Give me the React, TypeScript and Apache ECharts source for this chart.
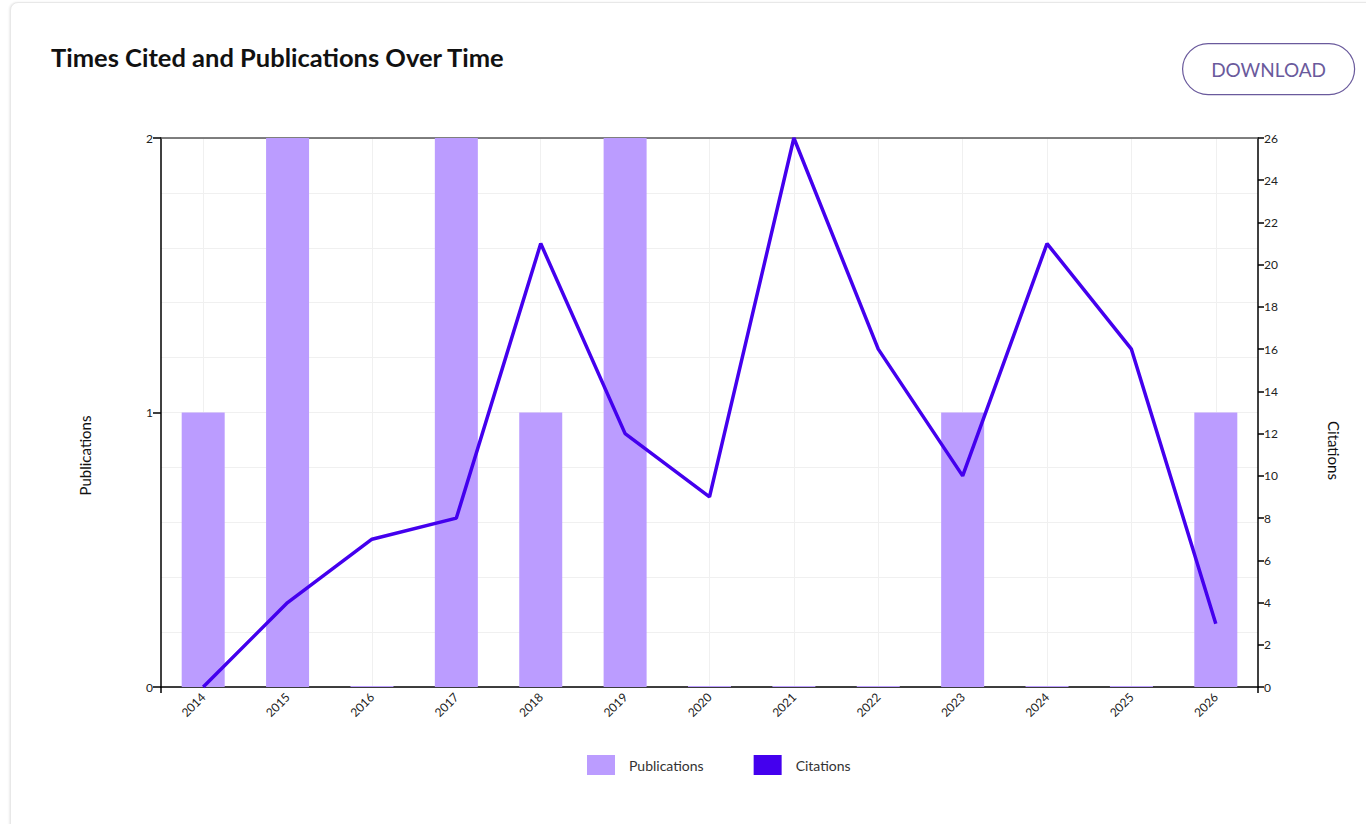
import React, { useEffect, useRef } from "react";
import * as echarts from "echarts";

const years = ["2014", "2015", "2016", "2017", "2018", "2019", "2020", "2021", "2022", "2023", "2024", "2025", "2026"];
const publications = [1, 2, 0, 2, 1, 2, 0, 0, 0, 1, 0, 0, 1];
const citations = [0, 4, 7, 8, 21, 12, 9, 26, 16, 10, 21, 16, 3];
const titleText = "Times Cited and Publications Over Time";
const buttonText = "DOWNLOAD";

const FONT = "Lato, 'Noto Sans', sans-serif";
const BAR = "#bb9cff";
const LINE = "#4400ee";
const BTN = "#6a5a9c";

export default function App() {
  const ref = useRef<HTMLDivElement>(null);
  useEffect(() => {
    if (!ref.current) return;
    const chart = echarts.init(ref.current, undefined, { renderer: "svg" });
    chart.setOption({
      animation: false,
      textStyle: { fontFamily: FONT },
      title: {
        text: titleText,
        left: 46,
        top: 39,
        textStyle: { fontFamily: FONT, fontSize: 25.5, fontWeight: "bold", color: "#111" },
      },
      graphic: [
        {
          type: "group",
          left: 1182,
          top: 43,
          children: [
            {
              type: "rect",
              shape: { x: 0, y: 0, width: 172, height: 51, r: 25.5 },
              style: { fill: "#fff", stroke: BTN, lineWidth: 1.2 },
            },
            {
              type: "text",
              x: 86,
              y: 26,
              style: {
                text: buttonText,
                fill: BTN,
                font: `19px ${FONT}`,
                textAlign: "center",
                textVerticalAlign: "middle",
              },
            },
          ],
        },
      ],
      legend: {
        left: 582,
        top: 750,
        icon: "rect",
        itemWidth: 28,
        itemHeight: 20,
        itemGap: 50,
        textStyle: { fontFamily: FONT, fontSize: 14, color: "#333", padding: [0, 0, 0, 9] },
        data: ["Publications", "Citations"],
      },
      grid: { left: 161, right: 108, top: 138, bottom: 137, containLabel: false },
      xAxis: [
        {
          type: "category",
          data: years,
          position: "bottom",
          axisLine: { onZero: false, lineStyle: { color: "#000", width: 1.5 } },
          axisTick: { alignWithLabel: true, length: 6, lineStyle: { color: "#000", width: 1.5 } },
          axisLabel: { rotate: 45, fontSize: 12, color: "#222", margin: 8, fontFamily: FONT },
          splitLine: { show: true, alignWithLabel: true, lineStyle: { color: "#f0f0f0", width: 1 } },
        },
        {
          type: "value",
          position: "bottom",
          min: 0,
          max: 1,
          interval: 1,
          axisLine: { show: false, onZero: false },
          axisTick: { show: true, length: 6, lineStyle: { color: "#000", width: 1.5 } },
          axisLabel: { show: false },
          splitLine: { show: false },
        },
        {
          type: "value",
          position: "top",
          min: 0,
          max: 1,
          interval: 1,
          axisLine: { show: true, onZero: false, lineStyle: { color: "#555", width: 1.5 } },
          axisTick: { show: false },
          axisLabel: { show: false },
          splitLine: { show: false },
        },
      ],
      yAxis: [
        {
          type: "value",
          position: "left",
          min: 0,
          max: 2,
          interval: 1,
          name: "Publications",
          nameLocation: "middle",
          nameRotate: 90,
          nameGap: 69,
          nameTextStyle: { fontFamily: FONT, fontSize: 15, color: "#111", padding: [0, 86, 0, 0] },
          axisLine: { show: true, onZero: false, lineStyle: { color: "#000", width: 1.5 } },
          axisTick: { show: true, length: 8, lineStyle: { color: "#000", width: 1.5 } },
          axisLabel: { fontSize: 12, color: "#222", margin: 8, fontFamily: FONT },
          splitLine: { show: true, lineStyle: { color: "#f0f0f0" } },
          minorTick: { show: false, splitNumber: 5 },
          minorSplitLine: { show: true, lineStyle: { color: "#f0f0f0" } },
        },
        {
          type: "value",
          position: "right",
          min: 0,
          max: 26,
          interval: 2,
          name: "Citations",
          nameLocation: "middle",
          nameRotate: -90,
          nameGap: 68,
          nameTextStyle: { fontFamily: FONT, fontSize: 15, color: "#111", padding: [0, 0, 0, 76] },
          axisLine: { show: true, onZero: false, lineStyle: { color: "#000", width: 1.5 } },
          axisTick: { show: true, length: 6, lineStyle: { color: "#000", width: 1.5 } },
          axisLabel: { fontSize: 12, color: "#222", margin: 6, fontFamily: FONT },
          splitLine: { show: false },
        },
      ],
      series: [
        {
          name: "Publications",
          type: "bar",
          xAxisIndex: 0,
          yAxisIndex: 0,
          data: publications,
          barWidth: 43,
          barMinHeight: 1,
          itemStyle: { color: BAR },
        },
        {
          name: "Citations",
          type: "line",
          xAxisIndex: 0,
          yAxisIndex: 1,
          data: citations,
          showSymbol: false,
          symbol: "none",
          lineStyle: { color: LINE, width: 3.5 },
          itemStyle: { color: LINE },
        },
      ],
    });
    return () => chart.dispose();
  }, []);

  return (
    <div style={{ position: "fixed", left: 0, top: 0, width: 1366, height: 824, background: "#fff", overflow: "hidden" }}>
      <div
        style={{
          position: "absolute",
          left: 10,
          top: 2,
          width: 1400,
          height: 900,
          border: "1px solid #e8e8e8",
          borderRadius: 8,
          boxShadow: "-1px 0 2px rgba(0,0,0,0.08)",
          background: "#fff",
        }}
      />
      <div ref={ref} style={{ position: "absolute", left: 0, top: 0, width: 1366, height: 824 }} />
    </div>
  );
}
